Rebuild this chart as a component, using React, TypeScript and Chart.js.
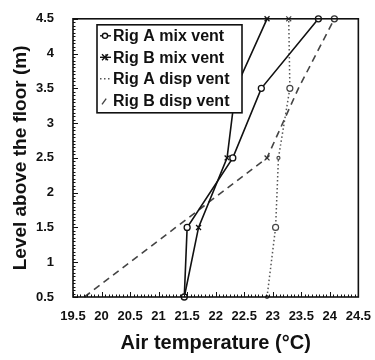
import React, { useEffect, useRef } from "react";
import { Chart, registerables } from "chart.js";

Chart.register(...registerables);

// Levels above the floor (m)
const levels = [0.5, 1.5, 2.5, 3.5, 4.5];
// Air temperatures (°C) for each series at the levels above
const rigAMix = [21.45, 21.5, 22.3, 22.8, 23.8];
const rigBMix = [21.45, 21.7, 22.2, 22.35, 22.9];
const rigADisp = [22.9, 23.05, 23.1, 23.3, 23.28];
const rigBDisp = [19.7, 21.3, 22.9, 23.45, 24.08];
const seriesLabels = ["Rig A mix vent", "Rig B mix vent", "Rig A disp vent", "Rig B disp vent"];
const xTicks = [19.5, 20, 20.5, 21, 21.5, 22, 22.5, 23, 23.5, 24, 24.5];
const yTicks = [0.5, 1, 1.5, 2, 2.5, 3, 3.5, 4, 4.5];

const FONT = "'Liberation Sans', Arial, Helvetica, sans-serif";

const toPoints = (xs: number[]) => xs.map((x, i) => ({ x, y: levels[i] }));

const framePlugin = {
  id: "frameTicks",
  afterDraw(chart: any) {
    const { ctx, chartArea: a, scales } = chart;
    const xs = scales.x;
    const ys = scales.y;
    ctx.save();
    ctx.strokeStyle = "#111";
    ctx.lineWidth = 1.6;
    ctx.strokeRect(a.left, a.top, a.right - a.left, a.bottom - a.top);
    ctx.lineWidth = 1;
    for (let v = 19.5; v <= 24.5001; v += 0.0625) {
      const px = Math.round(xs.getPixelForValue(v)) + 0.5;
      const major = Math.abs(v * 2 - Math.round(v * 2)) < 1e-6;
      const len = major ? 5 : 2.5;
      ctx.beginPath();
      ctx.moveTo(px, a.bottom);
      ctx.lineTo(px, a.bottom - len);
      ctx.stroke();
    }
    for (let v = 0.5; v <= 4.5001; v += 0.05) {
      const py = Math.round(ys.getPixelForValue(v)) + 0.5;
      const major = Math.abs(v * 2 - Math.round(v * 2)) < 1e-6;
      const len = major ? 5 : 2.5;
      ctx.beginPath();
      ctx.moveTo(a.left, py);
      ctx.lineTo(a.left + len, py);
      ctx.stroke();
    }
    ctx.restore();
  },
};

const legendPlugin = {
  id: "boxLegend",
  afterDraw(chart: any) {
    const { ctx, chartArea: a } = chart;
    const bx = a.left + 24;
    const by = a.top + 6;
    const bw = 145;
    const bh = 88;
    ctx.save();
    ctx.fillStyle = "#fff";
    ctx.fillRect(bx, by, bw, bh);
    ctx.strokeStyle = "#111";
    ctx.lineWidth = 1.6;
    ctx.strokeRect(bx, by, bw, bh);
    ctx.font = `bold 16px ${FONT}`;
    ctx.textBaseline = "middle";
    chart.data.datasets.forEach((ds: any, i: number) => {
      const cy = by + 11 + i * 21.5;
      const x0 = bx + 3;
      const x1 = bx + 14;
      ctx.strokeStyle = ds.borderColor;
      ctx.lineWidth = 1.4;
      ctx.setLineDash(ds.borderDash || []);
      ctx.beginPath();
      if (ds.legendSlant) {
        ctx.moveTo(x0 + 2, cy + 4);
        ctx.lineTo(x1 - 3, cy - 4);
      } else {
        ctx.moveTo(x0, cy);
        ctx.lineTo(x1, cy);
      }
      ctx.stroke();
      ctx.setLineDash([]);
      const mx = bx + 8;
      if (ds.legendMarker === "circle") {
        ctx.beginPath();
        ctx.fillStyle = "#fff";
        ctx.arc(mx, cy, 2.6, 0, Math.PI * 2);
        ctx.fill();
        ctx.stroke();
      } else if (ds.legendMarker === "cross") {
        ctx.beginPath();
        ctx.moveTo(mx - 3, cy - 3);
        ctx.lineTo(mx + 3, cy + 3);
        ctx.moveTo(mx - 3, cy + 3);
        ctx.lineTo(mx + 3, cy - 3);
        ctx.moveTo(mx + 1, cy - 3);
        ctx.lineTo(mx + 1, cy + 3);
        ctx.stroke();
      }
      ctx.fillStyle = "#111";
      ctx.fillText(ds.label, bx + 16, cy + 1);
    });
    ctx.restore();
  },
};

export default function App() {
  const ref = useRef<HTMLCanvasElement>(null);
  useEffect(() => {
    if (!ref.current) return;
    const chart = new Chart(ref.current, {
      type: "line",
      data: {
        datasets: [
          {
            label: seriesLabels[0],
            data: toPoints(rigAMix),
            borderColor: "#111",
            borderWidth: 1.6,
            pointStyle: "circle",
            pointRadius: 3,
            pointBorderWidth: 1.3,
            pointBackgroundColor: "#fff",
            pointBorderColor: "#111",
            legendMarker: "circle",
            clip: false,
          } as any,
          {
            label: seriesLabels[1],
            data: toPoints(rigBMix),
            borderColor: "#111",
            borderWidth: 1.6,
            pointStyle: "crossRot",
            pointRadius: 3.5,
            pointBorderWidth: 1.3,
            pointBorderColor: "#111",
            legendMarker: "cross",
            clip: false,
          } as any,
          {
            label: seriesLabels[2],
            data: toPoints(rigADisp),
            borderColor: "#555",
            borderWidth: 1.5,
            borderDash: [1.5, 2.5],
            pointStyle: ["circle", "circle", "circle", "circle", "crossRot"],
            pointRadius: [1.5, 3, 1.5, 3, 3.5],
            pointBorderWidth: 1.2,
            pointBackgroundColor: "#fff",
            pointBorderColor: "#444",
            legendMarker: "none",
            clip: false,
          } as any,
          {
            label: seriesLabels[3],
            data: toPoints(rigBDisp),
            borderColor: "#444",
            borderWidth: 1.6,
            borderDash: [7, 5],
            pointStyle: ["circle", "circle", "crossRot", "circle", "circle"],
            pointRadius: [0, 0, 3.5, 0, 3],
            pointBorderWidth: 1.3,
            pointBackgroundColor: "#fff",
            pointBorderColor: "#333",
            legendMarker: "none",
            legendSlant: true,
            clip: false,
          } as any,
        ],
      },
      options: {
        animation: false,
        responsive: false,
        layout: { padding: { top: 11, right: 15, bottom: 0, left: 0 } },
        plugins: { legend: { display: false }, tooltip: { enabled: false } },
        elements: { line: { tension: 0 } },
        scales: {
          x: {
            type: "linear",
            min: 19.5,
            max: 24.5,
            afterBuildTicks: (s: any) => {
              s.ticks = xTicks.map((v) => ({ value: v }));
            },
            afterFit: (s: any) => {
              s.height = 63;
            },
            grid: { display: false },
            border: { display: false },
            ticks: {
              padding: 4,
              maxRotation: 0,
              autoSkip: false,
              color: "#111",
              font: { family: FONT, size: 13, weight: "bold" },
              callback: (v: any) => String(v),
            },
            title: {
              display: true,
              text: "Air temperature (°C)",
              color: "#111",
              font: { family: FONT, size: 20, weight: "bold" },
              padding: { top: 0, bottom: 5 },
            },
          },
          y: {
            type: "linear",
            min: 0.5,
            max: 4.5,
            afterBuildTicks: (s: any) => {
              s.ticks = yTicks.map((v) => ({ value: v }));
            },
            afterFit: (s: any) => {
              s.width = 73;
            },
            grid: { display: false },
            border: { display: false },
            ticks: {
              padding: 11,
              autoSkip: false,
              color: "#111",
              font: { family: FONT, size: 13, weight: "bold" },
              callback: (v: any) => String(v),
            },
            title: {
              display: true,
              text: "Level above the floor (m)",
              color: "#111",
              font: { family: FONT, size: 19, weight: "bold" },
              padding: { top: 9, bottom: 0 },
            },
          },
        },
      } as any,
      plugins: [framePlugin, legendPlugin],
    });
    return () => chart.destroy();
  }, []);
  return (
    <div style={{ position: "fixed", left: 0, top: 0, width: 375, height: 360, background: "#fff" }}>
      <canvas ref={ref} width={375} height={360} />
    </div>
  );
}
